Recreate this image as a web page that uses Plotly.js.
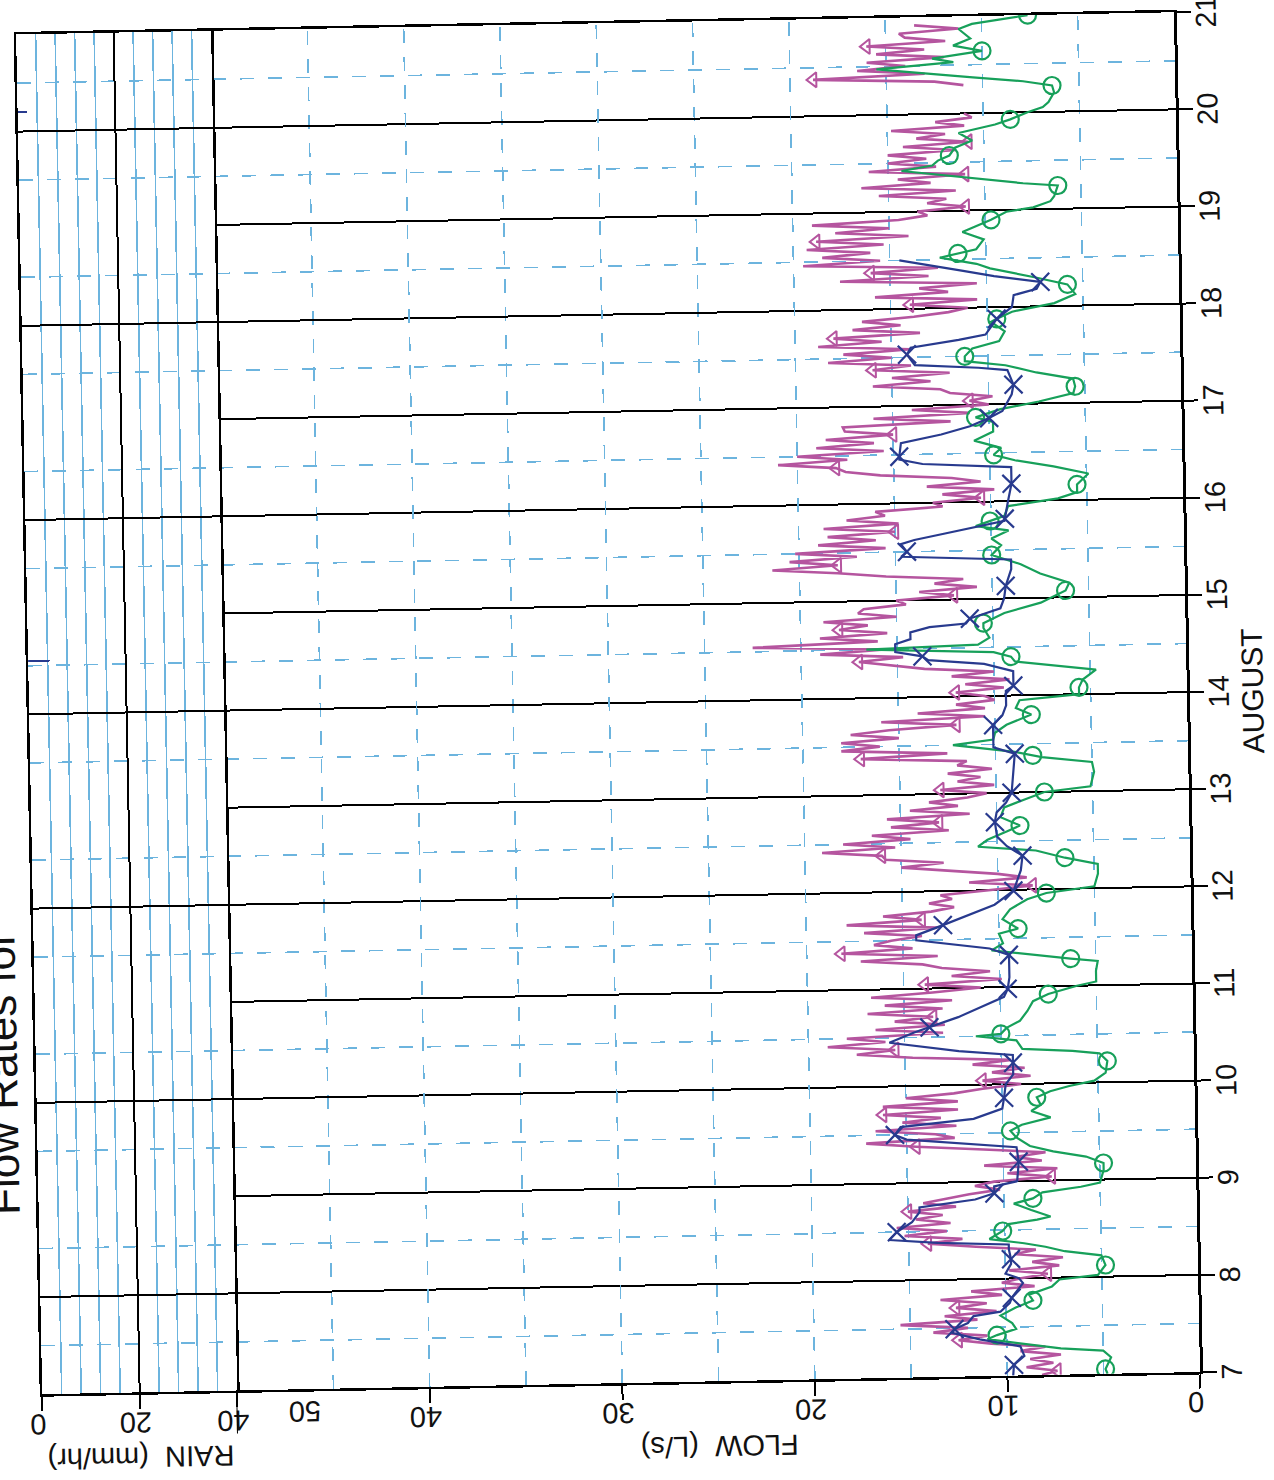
<!DOCTYPE html>
<html><head><meta charset="utf-8">
<script src="https://cdn.plot.ly/plotly-3.0.1.min.js"></script>
<style>
html,body{margin:0;padding:0;width:1274px;height:1480px;overflow:hidden;background:#fff;}
#chart{position:absolute;left:0;top:0;width:1520px;height:1300px;transform-origin:130px 1218px;transform:translate(1070px,154px) rotate(-91.1deg);}
</style></head><body><div id="chart"></div>
<script>
// ---- tick labels / categories ----
const dayTicks = [7,8,9,10,11,12,13,14,15,16,17,18,19,20,21];
const flowTicks = [0,10,20,30,40];
const rainTicks = [0,20,40];
const rainMinor = [4,8,12,16,24,28,32,36];
const titleText = 'Flow Rates for';

// ---- rain (day, mm/hr) ----
const rainDays = [14.55, 20.2];
const rainVals = [4.5, 2.0];

// ---- magenta series: hourly flow (L/s), one array per day ----
const mag07 = [8.2,7.4,9.0,7.6,8.8,7.2,9.3,8.0,10.8,12.5,11.0,13.8,12.0,15.5,11.5,13.2,10.5,12.6,11.0,13.4,10.2,11.8,8.5,10.2];
const mag08 = [9.2,7.8,9.8,7.2,8.6,7.0,9.5,8.4,11.5,14.0,12.2,15.2,13.0,15.6,12.8,14.6,13.2,15.0,12.5,14.2,13.0,11.8,10.2,11.5];
const mag09 = [10.5,7.5,9.8,7.2,11.0,8.0,9.4,7.8,11.0,14.5,17.1,12.5,13.5,16.6,12.4,15.2,13.2,16.2,12.3,16.2,12.3,15.0,12.5,11.0];
const mag10 = [9.0,11.0,8.5,10.5,8.8,11.5,9.5,14.6,17.5,15.5,19.0,16.0,18.0,13.0,16.5,12.9,15.5,13.5,16.9,13.0,16.0,12.5,16.7,13.5];
const mag11 = [11.0,13.9,9.9,12.5,10.5,13.0,14.0,17.2,13.2,18.2,14.5,16.5,15.6,14.0,17.0,13.2,17.9,14.0,16.0,13.5,12.3,13.6,12.4,13.0];
const mag12 = [10.5,8.2,11.5,8.5,10.0,12.3,15.0,12.8,15.8,16.0,19.1,15.3,18.0,14.5,16.5,12.5,15.5,13.0,15.7,11.4,14.5,12.0,13.5,11.5];
const mag13 = [10.5,12.9,10.1,12.0,10.8,12.5,10.2,12.0,11.5,17.0,12.5,18.0,16.0,18.0,15.0,17.5,15.5,12.0,15.9,10.5,14.0,10.5,12.0,10.0];
const mag14 = [10.5,12.0,9.5,11.5,9.2,12.2,10.0,13.6,15.2,17.0,14.7,19.0,15.5,22.5,16.0,19.0,15.5,18.0,16.5,18.8,15.0,17.0,16.7,14.5];
const mag15 = [15.0,12.0,13.8,10.8,13.0,11.5,15.5,18.0,21.4,18.0,20.5,17.0,20.2,15.5,19.0,16.0,18.5,15.0,18.7,14.8,17.5,15.5,16.0,12.5];
const mag16 = [13.0,10.5,12.5,9.8,13.3,10.5,12.0,15.7,17.5,18.0,21.0,17.4,20.0,15.5,19.0,16.0,18.5,15.0,17.5,17.6,12.0,16.0,11.0,14.0];
const mag17 = [10.0,11.0,9.8,12.0,12.5,16.0,13.0,15.0,12.0,16.0,14.0,18.3,15.0,17.5,14.0,18.8,15.5,18.0,13.5,17.0,14.5,16.5,13.8,12.0];
const mag18 = [11.0,14.0,10.5,15.8,12.0,13.5,10.5,17.6,13.0,16.0,12.5,19.5,15.5,18.5,16.0,19.3,15.3,18.8,14.0,17.8,15.0,19.0,14.5,13.0];
const mag19 = [13.5,11.0,13.0,12.0,15.5,11.5,16.4,12.8,14.5,11.0,16.0,12.5,15.0,13.0,15.0,11.5,14.2,10.8,13.5,12.0,14.8,11.0,12.5,10.6];
const mag20 = [11.0,null,null,null,null,null,null,11.0,12.5,18.8,13.0,16.5,14.0,16.0,12.0,15.5,13.0,16.0,11.9,14.0,14.3,11.2,13.5];

// ---- green series (day, L/s) ----
const greenPts = [[7.00,4.8],[7.05,4.9],[7.17,4.6],[7.24,5.0],[7.27,7.2],[7.30,8.3],[7.34,9.8],[7.38,11.0],[7.42,10.5],[7.48,9.5],[7.54,9.7],[7.62,10.3],[7.70,9.5],[7.77,8.6],[7.83,8.8],[7.91,7.6],[7.98,7.2],
[8.02,5.2],[8.12,4.8],[8.22,5.0],[8.27,6.9],[8.32,7.9],[8.36,9.0],[8.41,10.8],[8.49,10.1],[8.56,9.8],[8.60,8.3],[8.63,7.6],[8.70,8.6],[8.77,9.5],[8.82,8.5],[8.88,8.0],[8.93,6.0],[8.97,5.0],
[9.10,4.8],[9.17,4.8],[9.24,5.7],[9.30,7.4],[9.36,8.6],[9.45,9.3],[9.52,9.6],[9.58,9.0],[9.65,7.5],[9.72,8.5],[9.78,8.0],[9.86,8.2],[9.92,7.5],[9.97,6.5],
[10.02,5.2],[10.10,4.6],[10.22,4.5],[10.30,4.9],[10.33,6.3],[10.36,8.9],[10.45,9.2],[10.50,11.3],[10.52,10.0],[10.58,9.7],[10.65,9.0],[10.75,8.6],[10.85,8.3],[10.92,7.5],
[11.00,6.0],[11.04,5.0],[11.15,5.0],[11.25,4.9],[11.28,6.3],[11.32,8.0],[11.35,9.2],[11.38,10.4],[11.45,9.8],[11.55,10.0],[11.60,9.0],[11.70,9.8],[11.80,9.4],[11.90,8.5],[11.96,7.5],
[12.02,5.0],[12.15,4.8],[12.25,4.8],[12.32,6.5],[12.40,8.0],[12.45,11.0],[12.52,10.5],[12.60,9.5],[12.66,8.8],[12.75,9.8],[12.85,9.6],[12.93,8.5],
[13.00,7.5],[13.05,5.1],[13.20,4.9],[13.30,5.0],[13.36,7.6],[13.42,9.0],[13.46,10.5],[13.50,12.2],[13.55,10.1],[13.62,10.0],[13.70,9.4],[13.80,8.1],[13.87,8.9],[13.95,8.7],
[14.00,5.6],[14.07,5.6],[14.15,5.4],[14.25,4.7],[14.35,8.9],[14.40,9.1],[14.45,10.0],[14.50,16.6],[14.53,10.8],[14.60,10.2],[14.70,10.5],[14.75,10.5],[14.85,9.4],[14.95,7.5],
[15.07,6.2],[15.15,6.0],[15.25,7.5],[15.35,8.5],[15.45,10.0],[15.55,9.5],[15.62,10.0],[15.70,9.1],[15.75,10.8],[15.85,9.3],[15.95,9.1],
[16.02,6.5],[16.08,5.5],[16.16,5.5],[16.27,4.9],[16.35,6.7],[16.42,8.7],[16.48,9.8],[16.55,9.4],[16.63,10.8],[16.72,9.8],[16.82,9.8],[16.87,10.7],[16.95,9.4],
[17.02,7.4],[17.10,5.6],[17.17,5.5],[17.25,5.6],[17.32,7.5],[17.40,9.1],[17.45,11.2],[17.50,11.2],[17.58,10.8],[17.65,9.4],[17.75,9.1],[17.85,9.8],[17.88,9.5],[17.95,8.7],
[18.03,6.5],[18.12,5.4],[18.22,5.8],[18.30,7.5],[18.40,9.8],[18.45,10.5],[18.52,12.4],[18.60,10.5],[18.70,10.1],[18.78,11.2],[18.90,9.7],[18.98,8.9],
[19.02,7.5],[19.08,6.6],[19.13,6.4],[19.24,6.2],[19.27,8.0],[19.33,10.5],[19.38,12.4],[19.42,14.3],[19.47,12.7],[19.52,12.4],[19.57,11.8],[19.65,11.5],[19.72,10.6],[19.80,11.3],[19.88,9.4],[19.93,8.6],
[20.00,7.7],[20.05,6.9],[20.10,6.6],[20.20,6.3],[20.27,6.4],[20.32,7.9],[20.37,10.5],[20.42,12.9],[20.47,15.5],[20.53,11.5],[20.57,12.6],[20.64,10.0],[20.70,11.5],[20.77,10.6],[20.87,11.2],[20.92,10.5],[20.95,9.3],[21.00,7.6]];
const greenMarkDays = [7.05,7.42,7.77,8.12,8.49,8.82,9.17,9.52,9.86,10.22,10.52,10.92,11.28,11.60,11.96,12.32,12.66,13.00,13.38,13.80,14.07,14.40,14.75,15.07,15.45,15.80,16.16,16.48,16.87,17.17,17.50,17.88,18.22,18.56,18.90,19.24,19.57,19.93,20.27,20.64,21.00];

// ---- blue series (day, L/s) ----
const bluePts = [[7.00,9.7],[7.11,9.65],[7.20,9.1],[7.30,9.3],[7.38,11.4],[7.45,12.8],[7.49,12.7],[7.55,12.0],[7.62,11.7],[7.66,10.3],[7.75,9.8],[7.80,9.7],[7.95,9.1],
[8.00,9.3],[8.05,10.0],[8.15,9.7],[8.20,9.7],[8.30,9.8],[8.35,9.8],[8.38,13.5],[8.42,16.0],[8.50,15.6],[8.60,14.8],[8.70,14.4],[8.75,14.4],[8.82,11.5],[8.88,10.5],[8.95,10.5],
[9.00,9.3],[9.20,9.2],[9.35,9.3],[9.40,12.0],[9.45,15.0],[9.50,15.6],[9.58,15.3],[9.65,11.5],[9.75,10.0],[9.86,9.9],
[10.00,9.8],[10.10,9.4],[10.22,9.4],[10.30,9.4],[10.35,12.2],[10.45,15.8],[10.55,14.5],[10.60,13.7],[10.70,12.2],[10.80,11.0],[10.90,9.8],[10.98,9.6],
[11.10,9.5],[11.33,9.5],[11.40,10.5],[11.50,14.3],[11.55,14.3],[11.65,12.9],[11.75,11.5],[11.85,10.2],[11.99,9.2],
[12.10,9.0],[12.20,8.8],[12.35,8.7],[12.45,9.5],[12.55,10.0],[12.70,10.1],[12.80,10.0],[12.90,9.5],
[13.00,9.2],[13.20,9.1],[13.40,9.0],[13.47,10.1],[13.70,10.1],[13.80,9.6],[13.90,9.4],
[14.05,9.4],[14.10,9.0],[14.25,9.0],[14.33,10.5],[14.38,13.4],[14.42,13.7],[14.47,15.1],[14.55,15.1],[14.60,14.3],[14.67,14.3],[14.72,13.3],[14.75,11.4],[14.80,11.2],[14.90,9.6],
[15.00,9.4],[15.13,9.3],[15.30,9.0],[15.40,9.0],[15.45,14.7],[15.50,14.4],[15.58,14.7],[15.62,14.0],[15.68,12.4],[15.75,10.5],[15.80,9.3],
[16.00,9.1],[16.18,8.9],[16.35,8.9],[16.40,13.5],[16.45,14.7],[16.48,14.7],[16.62,14.6],[16.70,12.5],[16.78,11.0],[16.86,10.0],[16.93,9.3],
[17.10,8.8],[17.20,8.7],[17.35,9.0],[17.38,10.5],[17.42,13.8],[17.53,14.2],[17.60,14.0],[17.67,11.5],[17.72,10.1],[17.88,9.5],
[18.00,8.7],[18.12,8.6],[18.18,7.4],[18.25,7.2],[18.32,9.6],[18.38,11.2],[18.43,12.5],[18.47,13.6],[18.50,14.5]];
const blueMarkDays = [7.11,7.49,7.80,8.20,8.50,8.88,9.20,9.50,9.86,10.22,10.60,10.98,11.33,11.65,11.99,12.35,12.70,13.00,13.40,13.70,14.10,14.42,14.80,15.13,15.50,15.82,16.18,16.48,16.86,17.20,17.53,17.88,18.25];

// ---- build ----
const magAll = [].concat(mag07,mag08,mag09,mag10,mag11,mag12,mag13,mag14,mag15,mag16,mag17,mag18,mag19,mag20);
const HOUR = 1/24;
const magMarkX = [], magMarkY = [];
magAll.forEach((v,i)=>{ if(i%8===1 && v!==null){ magMarkX.push(7+i*HOUR); magMarkY.push(v);} });

function interp(pts, t){
  for(let i=0;i<pts.length-1;i++){
    const a=pts[i], b=pts[i+1];
    if(t>=a[0] && t<=b[0]){ const r=(t-a[0])/(b[0]-a[0]||1); return a[1]+r*(b[1]-a[1]); }
  }
  return pts[pts.length-1][1];
}

const GREEN='#17a05a', BLUE='#283a8e', MAG='#b5559f', GRIDBLUE='#6cb4de';
const FONT="'Liberation Sans',Arial,Helvetica,sans-serif";

const traces = [
  {type:'scatter', mode:'lines', x0:7, dx:HOUR, y:magAll, connectgaps:false, line:{color:MAG,width:2.6}, xaxis:'x', yaxis:'y', hoverinfo:'skip'},
  {type:'scatter', mode:'markers', x:magMarkX, y:magMarkY, marker:{symbol:'triangle-up-open',size:13,color:MAG,line:{width:2,color:MAG}}, xaxis:'x', yaxis:'y'},
  {type:'scatter', mode:'lines', x:greenPts.map(p=>p[0]), y:greenPts.map(p=>p[1]), line:{color:GREEN,width:2.2}, xaxis:'x', yaxis:'y'},
  {type:'scatter', mode:'markers', x:greenMarkDays, y:greenMarkDays.map(t=>interp(greenPts,t)), marker:{symbol:'circle-open',size:17,color:GREEN,line:{width:2.2,color:GREEN}}, xaxis:'x', yaxis:'y'},
  {type:'scatter', mode:'lines', x:bluePts.map(p=>p[0]), y:bluePts.map(p=>p[1]), line:{color:BLUE,width:2.2}, xaxis:'x', yaxis:'y'},
  {type:'scatter', mode:'markers', x:blueMarkDays, y:blueMarkDays.map(t=>interp(bluePts,t)), marker:{symbol:'x-thin-open',size:18,color:BLUE,line:{width:2.2,color:BLUE}}, xaxis:'x', yaxis:'y'},
  {type:'bar', x:rainDays, y:rainVals, width:0.02, marker:{color:BLUE,line:{width:0}}, xaxis:'x2', yaxis:'y2'}
];

const flowTop = 963/1158;
const layout = {
  width:1520, height:1300,
  margin:{l:130, r:30, t:60, b:82, pad:0},
  paper_bgcolor:'rgba(0,0,0,0)', plot_bgcolor:'#fff',
  showlegend:false, bargap:0,
  font:{family:FONT, size:29, color:'#111'},
  title:{text:titleText, x:310/1520, xanchor:'left', y:1-41/1300, yanchor:'bottom', font:{size:44}},
  xaxis:{range:[7,21], domain:[0,1], anchor:'y', tickmode:'array', tickvals:dayTicks, ticktext:dayTicks.map(String),
    ticks:'outside', ticklen:14, tickwidth:2, tickcolor:'#000', ticklabelstandoff:-10,
    showgrid:true, gridcolor:'#000', gridwidth:2,
    minor:{tick0:7.5, dtick:1, showgrid:true, gridcolor:GRIDBLUE, griddash:'14px,14px', gridwidth:1.6, ticks:''},
    showline:true, linecolor:'#000', linewidth:3, zeroline:false,
    title:{text:'AUGUST', standoff:14, font:{size:30}}},
  xaxis2:{matches:'x', domain:[0,1], anchor:'y2', showticklabels:false, ticks:'',
    showgrid:true, gridcolor:'#000', gridwidth:2,
    minor:{tick0:7.5, dtick:1, showgrid:true, gridcolor:GRIDBLUE, griddash:'14px,14px', gridwidth:1.6, ticks:''},
    showline:true, linecolor:'#000', linewidth:2.5, mirror:true, zeroline:false},
  yaxis:{domain:[0,flowTop], range:[0,50], anchor:'x', tickmode:'array', tickvals:flowTicks, ticktext:flowTicks.map(String),
    ticks:'outside', ticklen:14, tickwidth:2, tickcolor:'#000', tickangle:-90, ticklabelstandoff:-8,
    showgrid:true, gridcolor:GRIDBLUE, griddash:'14px,14px', gridwidth:1.6,
    minor:{tick0:5, dtick:10, showgrid:true, gridcolor:GRIDBLUE, griddash:'14px,14px', gridwidth:1.6, ticks:''},
    showline:true, linecolor:'#000', linewidth:2.5, mirror:true, zeroline:false,
    title:{text:'FLOW  (L/s)', standoff:0, font:{size:29}}},
  yaxis2:{domain:[flowTop,1], range:[40,0], anchor:'x2', tickmode:'array', tickvals:rainTicks, ticktext:rainTicks.map(String),
    ticks:'outside', ticklen:14, tickwidth:2, tickcolor:'#000', tickangle:-90, ticklabelstandoff:-8,
    showgrid:true, gridcolor:'#000', gridwidth:2,
    minor:{tickmode:'array', tickvals:rainMinor, showgrid:true, gridcolor:GRIDBLUE, gridwidth:1.6, ticks:''},
    showline:true, linecolor:'#000', linewidth:2.5, mirror:true, zeroline:false,
    title:{text:'RAIN  (mm/hr)', standoff:0, font:{size:29}}},
  shapes:[{type:'line', xref:'paper', yref:'y2', x0:-43/1360, x1:0, y0:40, y1:40, line:{color:'#000', width:2}}],
  annotations:[{xref:'paper', yref:'y', x:-22/1360, y:46.5, text:'50', showarrow:false, textangle:-90, xanchor:'center', yanchor:'middle', font:{size:29}}]
};
Plotly.newPlot('chart', traces, layout, {displayModeBar:false, staticPlot:true});
</script></body></html>
